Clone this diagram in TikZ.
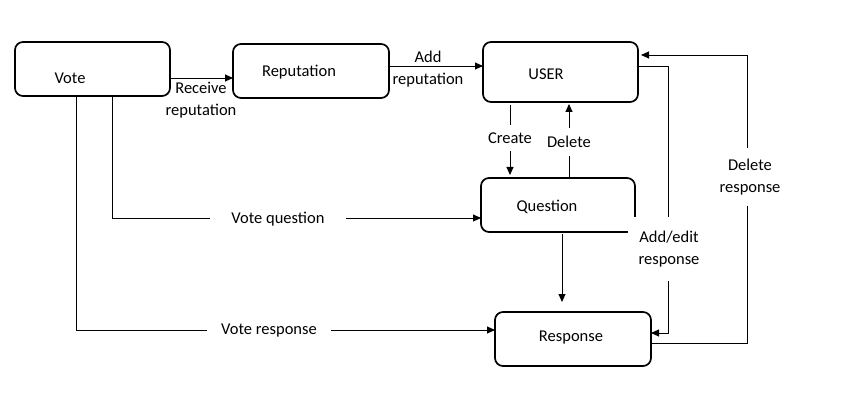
\documentclass[tikz,border=0pt]{standalone}
\usepackage{fontspec}
\setmainfont{Carlito}
\usetikzlibrary{arrows.meta, positioning}
\tikzset{>={Triangle[length=8pt,width=7pt]}}
\tikzset{
  box/.style={rectangle, draw=black, line width=1.7pt, rounded corners=8pt, minimum width=155pt, minimum height=54pt, outer sep=0pt},
  boxtext/.style={inner sep=0pt, font=\fontsize{16.5}{21.5}\selectfont},
  flow/.style={->, line width=0.9pt},
  lbl/.style={fill=white, inner xsep=10pt, inner ysep=8pt, align=center, font=\fontsize{16.5}{21.5}\selectfont},
  plainlbl/.style={inner sep=0pt, align=center, font=\fontsize{16.5}{21.5}\selectfont}
}

\begin{document}
\begin{tikzpicture}[x=1pt, y=-1pt]

\useasboundingbox (0,0) rectangle (867,403);

% boxes
\node[box] (vote) at (92.5,69) {};
\node[box, minimum width=156pt] (rep) at (311,71) {};
\node[box, minimum height=60pt] (user) at (560.5,72) {};
\node[box, minimum width=154pt] (question) at (558,205) {};
\node[box, minimum width=156pt] (response) at (573,339) {};

% box texts
\node[boxtext] (votetext) at (70,78) {Vote};
\node[boxtext] (reptext) at (299,72) {Reputation};
\node[boxtext] (usertext) at (546,74) {USER};
\node[boxtext] (questiontext) at (547,207) {Question};
\node[boxtext] (responsetext) at (571,338) {Response};

% top row
\draw[flow] ([yshift=-9pt]vote.east) -- ([yshift=-7pt]rep.west);
\draw[flow] ([yshift=5pt]rep.east) -- ([yshift=6pt]user.west);

% user <-> question
\draw[flow, shorten <=3pt, shorten >=3pt] ([xshift=-50.5pt]user.south) -- ([xshift=-48pt]question.north);
\draw[flow, shorten >=2pt] ([xshift=11pt]question.north) -- ([xshift=8.5pt]user.south);
\draw[flow, shorten <=2pt, shorten >=10pt] ([xshift=4pt]question.south) -- ([xshift=-11pt]response.north);

% votes
\draw[flow] ([xshift=19.5pt]vote.south) |- ([yshift=-13pt]question.west);
\draw[flow] ([xshift=-16.5pt]vote.south) |- ([yshift=9pt]response.west);

% responses
\draw[flow] ([yshift=6pt]user.east) -- ++(30,0) |- ([yshift=6pt]response.east);
\draw[flow] ([yshift=-4pt]response.east) -- ++(96,0) |- ([yshift=17pt,xshift=3pt]user.east);

% labels
\node[plainlbl] (receive) at (201,100) {Receive\\reputation};
\node[plainlbl] (addrep) at (428,69) {Add\\reputation};
\node[lbl] (create) at (510,138) {Create};
\node[lbl] (delete) at (569,142) {Delete};
\node[lbl, inner xsep=21pt] (votequestion) at (278,219) {Vote question};
\node[lbl, inner xsep=14pt] (voteresponse) at (269,331) {Vote response};
\node[lbl, inner xsep=11pt, inner ysep=14pt] (addedit) at (669,249) {Add/edit\\response};
\node[lbl, inner ysep=11pt] (delresponse) at (750,177) {Delete\\response};

\end{tikzpicture}
\end{document}
